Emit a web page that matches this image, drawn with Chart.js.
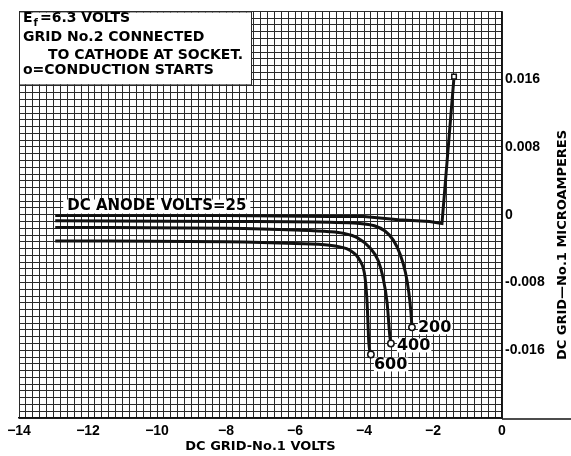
<!DOCTYPE html>
<html>
<head>
<meta charset="utf-8">
<script src="https://cdn.jsdelivr.net/npm/chart.js@4.4.0/dist/chart.umd.min.js"></script>
<style>
  html, body { margin: 0; padding: 0; background: #fff; }
</style>
</head>
<body>
<canvas id="gridChart" width="571" height="456"></canvas>
<script>
// DC grid-No.1 volts (x) against grid current (y), one pair per anode voltage
const anode25X = [-12.95, -8, -5, -4, -3, -2.1, -1.74, -1.39];
const anode25Y = [-0.0001, -0.0001, -0.0002, -0.0002, -0.0006, -0.0008, -0.00105, 0.0163];

const anode200X = [-12.95, -8, -5, -4.2, -3.7, -3.4, -3.15, -2.95, -2.8, -2.7, -2.64, -2.61];
const anode200Y = [-0.0007, -0.0008, -0.0009, -0.0010, -0.0013, -0.0019, -0.0030, -0.0047, -0.0068, -0.0092, -0.0115, -0.0133];

const anode400X = [-12.95, -8, -6, -5, -4.6, -4.2, -3.83, -3.59, -3.45, -3.33, -3.25, -3.22];
const anode400Y = [-0.0015, -0.0016, -0.0018, -0.0020, -0.0022, -0.0027, -0.0039, -0.0054, -0.0074, -0.0104, -0.0144, -0.0152];

const anode600X = [-12.95, -8, -6, -5, -4.7, -4.41, -4.12, -3.97, -3.91, -3.86, -3.8];
const anode600Y = [-0.0031, -0.0032, -0.0034, -0.0036, -0.0038, -0.0042, -0.0054, -0.0074, -0.0104, -0.0151, -0.0165];

const curveNames = ['25', '200', '400', '600'];
const xTickLabels = [-14, -12, -10, -8, -6, -4, -2, 0];
const yTickLabels = [0.016, 0.008, 0, -0.008, -0.016];

const INK = '#111';
const GRID = '#2a2a2a';

function toPoints(xs, ys) {
    return xs.map((x, i) => ({ x: x, y: ys[i] }));
}

function curve(name, xs, ys, marker, smooth) {
    const last = xs.length - 1;
    return {
        label: name,
        data: toPoints(xs, ys),
        showLine: true,
        borderColor: INK,
        borderWidth: 3,
        cubicInterpolationMode: smooth ? 'monotone' : 'default',
        tension: 0,
        pointStyle: marker,
        pointRadius: ctx => ctx.dataIndex === last ? 3.2 : 0,
        pointBackgroundColor: '#fff',
        pointBorderColor: INK,
        pointBorderWidth: 1.5
    };
}

// text that sits on the plot: notes box, curve names, right axis title
const notesPlugin = {
    id: 'notes',
    afterDatasetsDraw(chart) {
        const ctx = chart.ctx;
        const xs = chart.scales.x;
        const ys = chart.scales.y;
        ctx.save();
        ctx.textBaseline = 'middle';
        ctx.textAlign = 'left';
        ctx.fillStyle = '#000';

        // notes box top-left
        ctx.fillStyle = '#fff';
        ctx.fillRect(chart.chartArea.left + 1, chart.chartArea.top + 1, 231, 72);
        ctx.strokeStyle = GRID;
        ctx.lineWidth = 1;
        ctx.strokeRect(chart.chartArea.left + 0.5, chart.chartArea.top + 0.5, 232, 73);
        ctx.fillStyle = '#000';
        ctx.font = 'bold 14px "DejaVu Sans"';
        ctx.fillText('E', 23, 18);
        const eW = ctx.measureText('E').width;
        ctx.font = 'bold 10px "DejaVu Sans"';
        ctx.fillText('f', 23 + eW + 1, 23);
        const fW = ctx.measureText('f').width;
        ctx.font = 'bold 14px "DejaVu Sans"';
        ctx.fillText('=6.3 VOLTS', 23 + eW + fW + 3, 18);
        ctx.fillText('GRID No.2 CONNECTED', 23, 37);
        ctx.fillText('TO CATHODE AT SOCKET.', 48, 55);
        ctx.fillText('o=CONDUCTION STARTS', 23, 70);

        // anode volts label above the 25 V curve
        const sx = xs.getPixelForValue(anode25X[0]);
        const sy = ys.getPixelForValue(anode25Y[0]);
        ctx.font = 'bold 15px "DejaVu Sans"';
        const t25 = 'DC ANODE VOLTS=' + curveNames[0];
        const w25 = ctx.measureText(t25).width;
        ctx.fillStyle = '#fff';
        ctx.fillRect(sx + 8, sy - 16, w25 + 8, 14);
        ctx.fillStyle = '#000';
        ctx.fillText(t25, sx + 12, sy - 9);

        // names at the end of each curve
        const ends = [
            [anode200X, anode200Y, curveNames[1], 6, 0],
            [anode400X, anode400Y, curveNames[2], 6, 2],
            [anode600X, anode600Y, curveNames[3], 3, 10]
        ];
        ctx.font = 'bold 16px "DejaVu Sans"';
        ends.forEach(([cx, cy, name, dx, dy]) => {
            const px = xs.getPixelForValue(cx[cx.length - 1]) + dx;
            const py = ys.getPixelForValue(cy[cy.length - 1]) + dy;
            const w = ctx.measureText(name).width;
            ctx.fillStyle = '#fff';
            ctx.fillRect(px, py - 7, w + 1, 14);
            ctx.fillStyle = '#000';
            ctx.fillText(name, px, py);
        });

        // frame line under the right-hand labels
        ctx.strokeStyle = INK;
        ctx.lineWidth = 1.5;
        ctx.beginPath();
        ctx.moveTo(chart.chartArea.right, chart.chartArea.bottom + 1);
        ctx.lineTo(chart.width, chart.chartArea.bottom + 1);
        ctx.stroke();

        // right axis title, reads bottom to top
        ctx.translate(563, 245);
        ctx.rotate(-Math.PI / 2);
        ctx.textAlign = 'center';
        ctx.font = 'bold 13px "DejaVu Sans"';
        ctx.fillText('DC GRID\u2014No.1 MICROAMPERES', 0, 0);
        ctx.restore();
    }
};

const ctx = document.getElementById('gridChart').getContext('2d');
const gridChart = new Chart(ctx, {
    type: 'scatter',
    data: {
        datasets: [
            curve(curveNames[0], anode25X, anode25Y, 'rect', false),
            curve(curveNames[1], anode200X, anode200Y, 'circle', true),
            curve(curveNames[2], anode400X, anode400Y, 'circle', true),
            curve(curveNames[3], anode600X, anode600Y, 'circle', true)
        ]
    },
    options: {
        responsive: false,
        animation: false,
        devicePixelRatio: 1,
        layout: { padding: { left: 19, top: 9, right: 0, bottom: 0 } },
        plugins: {
            legend: { display: false },
            tooltip: { enabled: false }
        },
        scales: {
            x: {
                type: 'linear',
                position: 'bottom',
                min: -14,
                max: 0,
                grid: { color: GRID, lineWidth: 1, drawTicks: false },
                border: { color: INK, width: 1.5 },
                ticks: {
                    stepSize: 0.2,
                    autoSkip: false,
                    maxRotation: 0,
                    padding: 5,
                    color: '#000',
                    font: { family: '"Liberation Sans"', weight: 'bold', size: 14 },
                    callback: function(v) {
                        const r = Math.round(v);
                        if (Math.abs(v - r) > 1e-6 || !xTickLabels.includes(r)) return '';
                        return r === 0 ? '0' : '\u2212' + Math.abs(r);
                    }
                },
                title: {
                    display: true,
                    text: 'DC GRID-No.1 VOLTS',
                    color: '#000',
                    font: { family: '"DejaVu Sans"', weight: 'bold', size: 13 },
                    padding: { top: 0, bottom: 2 }
                },
                afterFit: function(scale) { scale.height = 38; }
            },
            y: {
                type: 'linear',
                position: 'right',
                min: -0.024,
                max: 0.024,
                grid: { color: GRID, lineWidth: 1, drawTicks: false },
                border: { color: INK, width: 1.5 },
                ticks: {
                    stepSize: 0.0008,
                    autoSkip: false,
                    padding: 3,
                    color: '#000',
                    font: { family: '"Liberation Sans"', weight: 'bold', size: 14 },
                    callback: function(v) {
                        const hit = yTickLabels.find(t => Math.abs(t - v) < 1e-7);
                        if (hit === undefined) return '';
                        return hit === 0 ? '0' : (hit < 0 ? '-' : '') + Math.abs(hit).toFixed(3);
                    }
                },
                afterFit: function(scale) { scale.width = 69; }
            }
        }
    },
    plugins: [notesPlugin]
});
</script>
</body>
</html>
